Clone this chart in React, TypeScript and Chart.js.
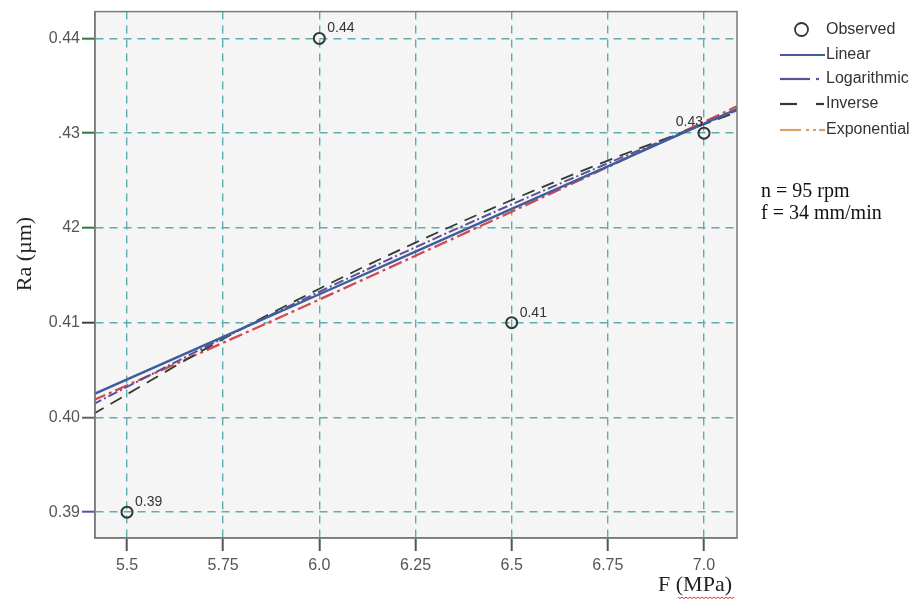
import { useEffect, useRef } from "react";
import { Chart, registerables } from "chart.js";

Chart.register(...registerables);

// Observed surface roughness against force
const forceValues = [5.5, 6.0, 6.5, 7.0];
const observedRa = [0.39, 0.44, 0.41, 0.43];
const observedLabels = ["0.39", "0.44", "0.41", "0.43"];

// Fitted curves, sampled across the axis range
const fitForce = [5.41, 5.75, 6.0, 6.25, 6.5, 6.75, 7.09];
const linearRa = [0.40238, 0.4085, 0.413, 0.4175, 0.422, 0.4265, 0.43262];
const logarithmicRa = [0.40135, 0.40837, 0.41326, 0.41796, 0.42248, 0.42682, 0.43248];
const inverseRa = [0.4003, 0.40828, 0.41358, 0.41845, 0.42294, 0.42711, 0.4323];
const exponentialRa = [0.40176, 0.40788, 0.41244, 0.41706, 0.42171, 0.42643, 0.43291];

// Axis ticks
const xTickValues = [5.5, 5.75, 6.0, 6.25, 6.5, 6.75, 7.0];
const xTickLabels = ["5.5", "5.75", "6.0", "6.25", "6.5", "6.75", "7.0"];
const yTickValues = [0.39, 0.4, 0.41, 0.42, 0.43, 0.44];
const yTickLabels = ["0.39", "0.40", "0.41", "42", ".43", "0.44"];
const yTickColors = ["#5b4ea8", "#666666", "#444444", "#2f7a3a", "#2f7a3a", "#2f7a3a"];

const X_MIN = 5.4168;
const X_MAX = 7.0858;
const Y_MIN = 0.38727;
const Y_MAX = 0.44283;

const COLORS = {
  observed: "#2f3a36",
  linear: "#3d5d9c",
  logarithmic: "#5e4f96",
  inverse: "#2f3b33",
  exponential: "#d24a4f",
  exponentialKey: "#d9a06e",
  grid: "#5eaeb0",
  frame: "#7a7a7a",
  plotBg: "#f5f5f5",
  tickText: "#555555",
  text: "#333333",
};

const SANS = "Arial, 'Liberation Sans', sans-serif";
const SERIF = "'Times New Roman', 'Liberation Serif', serif";

const pairs = (xs: number[], ys: number[]) => xs.map((x, i) => ({ x, y: ys[i] }));

const decorPlugin = {
  id: "decor",
  beforeDraw(chart: any) {
    const { ctx, chartArea: a } = chart;
    ctx.save();
    ctx.fillStyle = COLORS.plotBg;
    ctx.fillRect(a.left, a.top, a.right - a.left, a.bottom - a.top);
    ctx.restore();
  },
  afterDatasetsDraw(chart: any) {
    const { ctx, chartArea: a } = chart;
    ctx.save();
    // plot frame
    ctx.strokeStyle = COLORS.frame;
    ctx.lineWidth = 1.5;
    ctx.setLineDash([]);
    ctx.strokeRect(a.left, a.top, a.right - a.left, a.bottom - a.top);

    // value labels next to observed points
    const meta = chart.getDatasetMeta(0);
    ctx.font = `14px ${SANS}`;
    ctx.fillStyle = COLORS.text;
    ctx.textBaseline = "alphabetic";
    meta.data.forEach((pt: any, i: number) => {
      const label = observedLabels[i];
      if (i === observedLabels.length - 1) {
        ctx.textAlign = "right";
        ctx.fillText(label, pt.x - 1, pt.y - 7);
      } else {
        ctx.textAlign = "left";
        ctx.fillText(label, pt.x + 8, pt.y - 6);
      }
    });

    // axis titles
    ctx.fillStyle = "#222222";
    ctx.font = `22px ${SERIF}`;
    ctx.textAlign = "center";
    ctx.textBaseline = "middle";
    ctx.fillText("F (MPa)", 695, 585);
    // spell-check squiggle under "MPa"
    ctx.strokeStyle = "#e03030";
    ctx.lineWidth = 1;
    ctx.beginPath();
    for (let x = 678, k = 0; x <= 734; x += 2, k++) {
      const y = 597 + (k % 2 === 0 ? 0 : 1.6);
      if (k === 0) ctx.moveTo(x, y);
      else ctx.lineTo(x, y);
    }
    ctx.stroke();

    ctx.save();
    ctx.translate(25, 254);
    ctx.rotate(-Math.PI / 2);
    ctx.font = `22px ${SERIF}`;
    ctx.fillStyle = "#222222";
    ctx.textAlign = "center";
    ctx.textBaseline = "middle";
    ctx.fillText("Ra (µm)", 0, 0);
    ctx.restore();

    // legend
    const textX = 826;
    ctx.font = `16px ${SANS}`;
    ctx.fillStyle = COLORS.text;
    ctx.textAlign = "left";
    ctx.textBaseline = "middle";

    ctx.strokeStyle = COLORS.observed;
    ctx.lineWidth = 1.8;
    ctx.beginPath();
    ctx.arc(801.5, 29.5, 6.5, 0, Math.PI * 2);
    ctx.stroke();
    ctx.fillText("Observed", textX, 30);

    const seg = (x1: number, x2: number, y: number, color: string) => {
      ctx.strokeStyle = color;
      ctx.lineWidth = 2.2;
      ctx.beginPath();
      ctx.moveTo(x1, y);
      ctx.lineTo(x2, y);
      ctx.stroke();
    };

    seg(780, 825, 55, COLORS.linear);
    ctx.fillText("Linear", textX, 55);

    seg(780, 810, 79, COLORS.logarithmic);
    seg(816, 819, 79, COLORS.logarithmic);
    ctx.fillText("Logarithmic", textX, 79);

    seg(780, 797, 104, COLORS.inverse);
    seg(816, 824, 104, COLORS.inverse);
    ctx.fillText("Inverse", textX, 104);

    seg(780, 801, 130, COLORS.exponentialKey);
    seg(806, 809, 130, COLORS.exponentialKey);
    seg(813, 816, 130, COLORS.exponentialKey);
    seg(819, 825, 130, COLORS.exponentialKey);
    ctx.fillText("Exponential", textX, 130);

    // machining conditions
    ctx.font = `20px ${SERIF}`;
    ctx.fillStyle = "#111111";
    ctx.fillText("n = 95 rpm", 761, 192);
    ctx.fillText("f = 34 mm/min", 761, 214);
    ctx.restore();
  },
};

export default function App() {
  const canvasRef = useRef<HTMLCanvasElement | null>(null);

  useEffect(() => {
    if (!canvasRef.current) return;
    const chart = new Chart(canvasRef.current, {
      type: "scatter",
      data: {
        datasets: [
          {
            label: "Observed",
            data: pairs(forceValues, observedRa),
            showLine: false,
            pointStyle: "circle",
            pointRadius: 5.5,
            pointBorderWidth: 2,
            pointBackgroundColor: "rgba(0,0,0,0)",
            pointBorderColor: COLORS.observed,
          },
          {
            label: "Linear",
            data: pairs(fitForce, linearRa),
            showLine: true,
            pointRadius: 0,
            borderColor: COLORS.linear,
            borderWidth: 2.4,
          },
          {
            label: "Logarithmic",
            data: pairs(fitForce, logarithmicRa),
            showLine: true,
            pointRadius: 0,
            borderColor: COLORS.logarithmic,
            borderWidth: 2,
            borderDash: [10, 3, 2, 3],
            cubicInterpolationMode: "monotone",
          },
          {
            label: "Inverse",
            data: pairs(fitForce, inverseRa),
            showLine: true,
            pointRadius: 0,
            borderColor: COLORS.inverse,
            borderWidth: 1.8,
            borderDash: [13, 8],
            cubicInterpolationMode: "monotone",
          },
          {
            label: "Exponential",
            data: pairs(fitForce, exponentialRa),
            showLine: true,
            pointRadius: 0,
            borderColor: COLORS.exponential,
            borderWidth: 2.3,
            borderDash: [14, 4, 3, 4],
            cubicInterpolationMode: "monotone",
          },
        ],
      },
      options: {
        responsive: false,
        maintainAspectRatio: false,
        animation: false,
        layout: { padding: { left: 0, right: 175, top: 9, bottom: 0 } },
        plugins: {
          legend: { display: false },
          tooltip: { enabled: false },
          title: { display: false },
        },
        scales: {
          x: {
            type: "linear",
            min: X_MIN,
            max: X_MAX,
            afterBuildTicks: (s: any) => {
              s.ticks = xTickValues.map((v) => ({ value: v }));
            },
            afterFit: (s: any) => {
              s.height = 63;
            },
            ticks: {
              padding: 5,
              color: COLORS.tickText,
              font: { family: SANS, size: 16 },
              maxRotation: 0,
              autoSkip: false,
              callback: (_v: any, i: number) => xTickLabels[i],
            },
            grid: {
              color: COLORS.grid,
              lineWidth: 1.4,
              tickLength: 13,
              tickColor: "#555555",
              tickWidth: 2,
              tickBorderDash: [],
            },
            border: { display: true, color: COLORS.frame, width: 1.5, dash: [8, 6] },
          },
          y: {
            type: "linear",
            min: Y_MIN,
            max: Y_MAX,
            afterBuildTicks: (s: any) => {
              s.ticks = yTickValues.map((v) => ({ value: v }));
            },
            afterFit: (s: any) => {
              s.width = 95;
            },
            ticks: {
              padding: 2,
              color: COLORS.tickText,
              font: { family: SANS, size: 16 },
              autoSkip: false,
              callback: (_v: any, i: number) => yTickLabels[i],
            },
            grid: {
              color: COLORS.grid,
              lineWidth: 1.4,
              tickLength: 13,
              tickColor: (c: any) => yTickColors[c.index] ?? "#555555",
              tickWidth: 2,
              tickBorderDash: [],
            },
            border: { display: true, color: COLORS.frame, width: 1.5, dash: [8, 6] },
          },
        },
      },
      plugins: [decorPlugin],
    });
    return () => chart.destroy();
  }, []);

  return (
    <div style={{ position: "fixed", left: 0, top: 0, width: 912, height: 601, background: "#ffffff" }}>
      <canvas ref={canvasRef} width={912} height={601} style={{ display: "block" }} />
    </div>
  );
}
